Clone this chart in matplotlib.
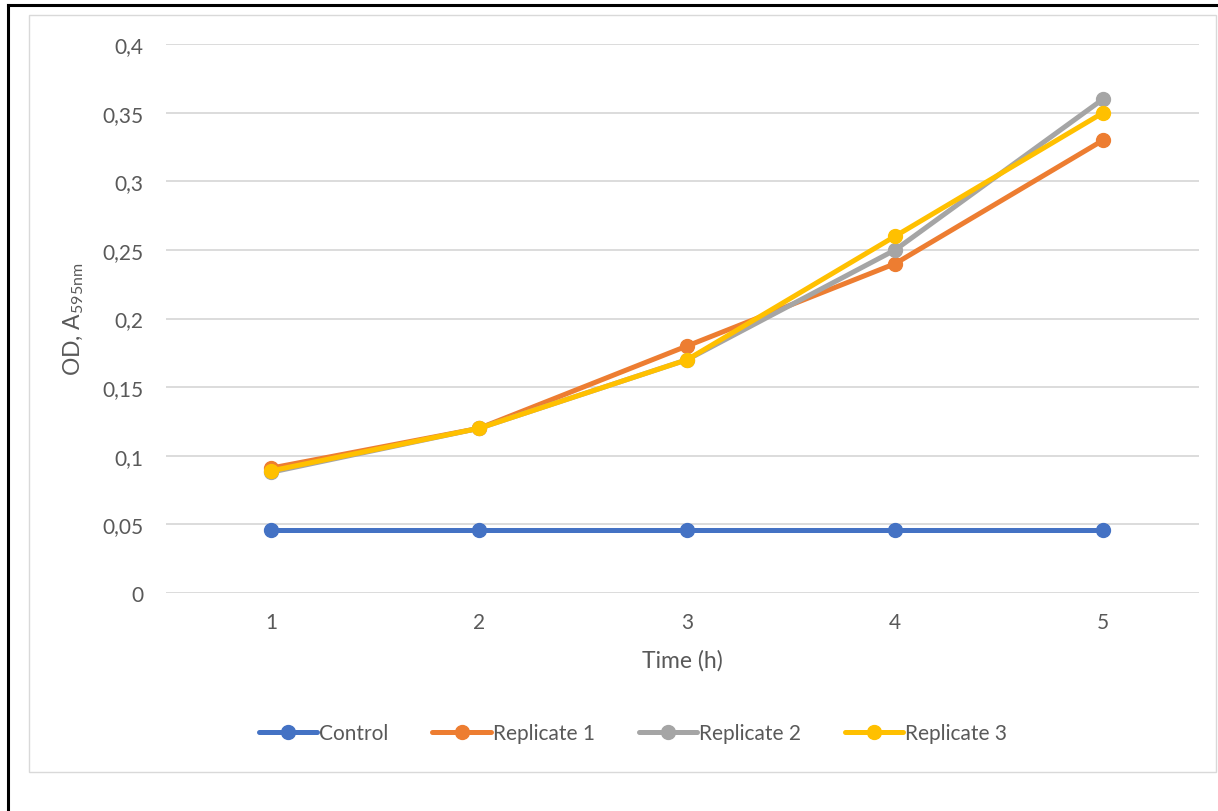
import numpy as np
import matplotlib.pyplot as plt
from matplotlib.lines import Line2D
from matplotlib.patches import Rectangle
from matplotlib.ticker import FuncFormatter, MultipleLocator

# data
hours = [1, 2, 3, 4, 5]
control = [0.046, 0.046, 0.046, 0.046, 0.046]
replicate_1 = [0.091, 0.12, 0.18, 0.24, 0.33]
replicate_2 = [0.088, 0.12, 0.17, 0.25, 0.36]
replicate_3 = [0.089, 0.12, 0.17, 0.26, 0.35]
series_names = ['Control', 'Replicate 1', 'Replicate 2', 'Replicate 3']

colors = ['#4472C4', '#ED7D31', '#A5A5A5', '#FFC000']
text_color = '#595959'
grid_color = '#D9D9D9'

plt.rcParams['font.family'] = ['Lato', 'DejaVu Sans']

W, H = 1218, 812
fig = plt.figure(figsize=(W / 100, H / 100), dpi=100)

# chart borders (black crop edge + light chart-area frame)
fig.add_artist(Line2D([8 / W, 8 / W], [0, 1 - 6 / H], color='black', lw=2.2))
fig.add_artist(Line2D([8 / W, 1], [1 - 6 / H, 1 - 6 / H], color='black', lw=2.2))
fig.add_artist(Rectangle((29 / W, 1 - 773 / H), (1216 - 29) / W, (773 - 16) / H,
                         transform=fig.transFigure, fill=False,
                         edgecolor=grid_color, lw=1.0))

left, right, top, bottom = 166, 1199, 45, 594
ax = fig.add_axes([left / W, 1 - bottom / H, (right - left) / W, (bottom - top) / H])

for s in ax.spines.values():
    s.set_visible(False)

ax.set_xlim(0.495, 5.46)
ax.set_ylim(0, 0.4)
ax.yaxis.set_major_locator(MultipleLocator(0.05))
ax.set_xticks(hours)
ax.yaxis.set_major_formatter(FuncFormatter(lambda v, p: ('%g' % round(v, 2)).replace('.', ',')))
ax.grid(axis='y', color=grid_color, lw=1.3, zorder=0)
ax.set_axisbelow(True)
ax.tick_params(length=0, labelsize=15, colors=text_color)
ax.tick_params(axis='y', pad=16)
ax.tick_params(axis='x', pad=14)

all_series = [control, replicate_1, replicate_2, replicate_3]
handles = []
for name, vals, c in zip(series_names, all_series, colors):
    h, = ax.plot(hours, vals, color=c, lw=3.6, marker='o', markersize=10,
                 solid_capstyle='round', label=name, zorder=3, clip_on=False)
    handles.append(h)

ax.set_xlabel('Time (h)', fontsize=16.5, color=text_color, labelpad=12)
ax.set_ylabel('OD, A$_{\\mathregular{595nm}}$', fontsize=16.5, color=text_color, labelpad=12)

leg = fig.legend(handles=handles, loc='center', bbox_to_anchor=(633 / W, 1 - 734 / H),
                 ncol=4, frameon=False, fontsize=15, handlelength=2.8,
                 handletextpad=0.1, columnspacing=2.1, labelcolor=text_color)

fig.savefig('out.png', dpi=100, facecolor='white')
